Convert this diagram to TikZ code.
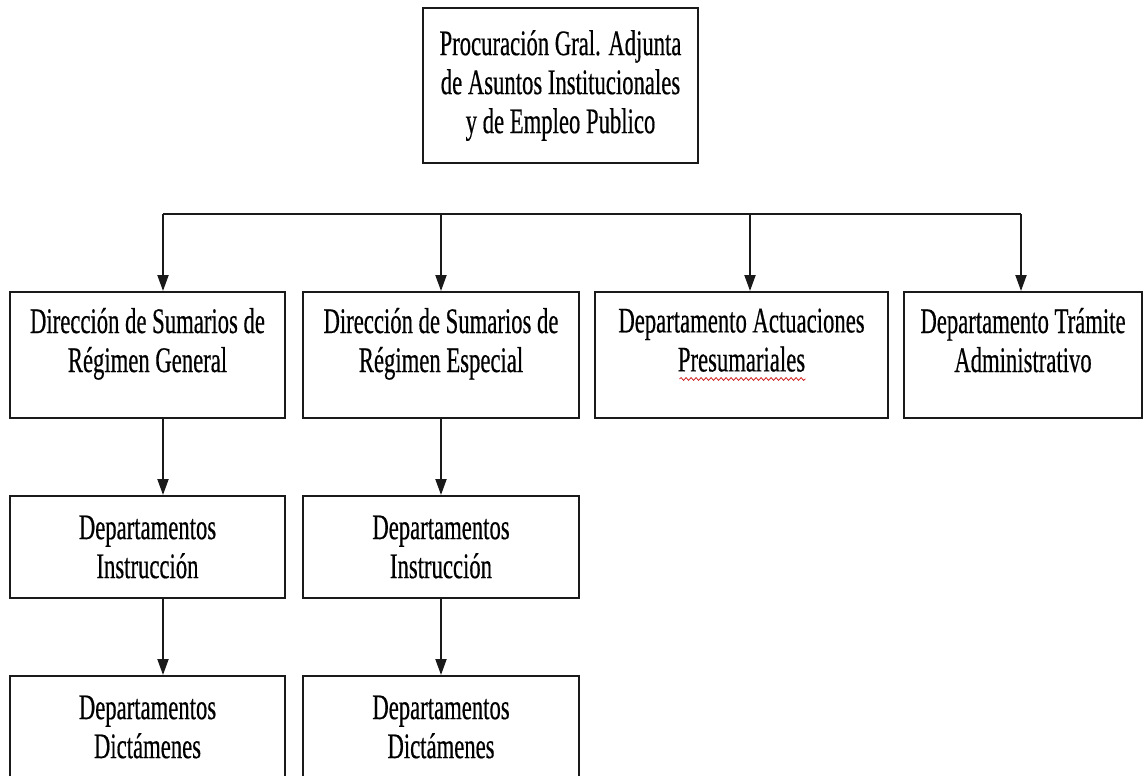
\documentclass[tikz,border=0pt]{standalone}
\usepackage{fontspec}
\setmainfont{Liberation Serif}[FakeStretch=0.63,FakeBold=0.4]
\usetikzlibrary{arrows.meta,calc,decorations.pathmorphing}
\definecolor{OrgLine}{HTML}{1A1A1A}
\definecolor{SpellRed}{HTML}{D02020}

\begin{document}
\begin{tikzpicture}[
    x=0.5pt, y=-0.5pt,
    box/.style={
      draw=OrgLine,
      line width=1pt,
      minimum width=#1,
      inner sep=0pt,
      font=\fontsize{18}{19.5}\selectfont,
      align=center
    },
    toprow/.style={minimum height=63pt, text depth=15pt},
    subrow/.style={minimum height=51pt},
    line/.style={
      line width=1pt,
      color=OrgLine
    },
    arrow/.style={
      line,
      -{Triangle[width=5.5pt,length=8pt]}
    },
    spell/.style={
      SpellRed,
      line width=0.4pt,
      decorate,
      decoration={snake,amplitude=0.7pt,segment length=2.5pt}
    }
  ]
  \useasboundingbox (0,0) rectangle (1146,776);
  \clip (0,0) rectangle (1146,776);

  % Procuracion
  \node[box=137.5pt,minimum height=77.5pt] (proc) at (560.5,85.5)
    {Procuración Gral. Adjunta\\de Asuntos Institucionales\\y de Empleo Publico};

  % Direcciones y departamentos
  \node[box=137.5pt,toprow] (sgen) at (147.5,355) {Dirección de Sumarios de\\Régimen General};
  \node[box=138pt,toprow]   (sesp) at (441,355)   {Dirección de Sumarios de\\Régimen Especial};
  \node[box=146.5pt,toprow] (pres) at (741.5,355) {Departamento Actuaciones\\Presumariales};
  \node[box=119pt,toprow]   (tram) at (1023,355)  {Departamento Trámite\\Administrativo};

  % Instruccion
  \node[box=137.5pt,subrow] (instg) at (147.5,547) {Departamentos\\Instrucción};
  \node[box=138pt,subrow]   (inste) at (441,547)   {Departamentos\\Instrucción};

  % Dictamenes
  \node[box=137.5pt,subrow] (dictg) at (147.5,727) {Departamentos\\Dictámenes};
  \node[box=138pt,subrow]   (dicte) at (441,727)   {Departamentos\\Dictámenes};

  % Bus
  \coordinate (b1) at (163,214);
  \coordinate (b2) at (441,214);
  \coordinate (b3) at (750,214);
  \coordinate (b4) at (1021,214);
  \draw[line] (b1) -- (b4);

  % Arrows
  \draw[arrow] (b1) -- (b1 |- sgen.north);
  \draw[arrow] (b2) -- (b2 |- sesp.north);
  \draw[arrow] (b3) -- (b3 |- pres.north);
  \draw[arrow] (b4) -- (b4 |- tram.north);
  \draw[arrow] (b1 |- sgen.south)  -- (b1 |- instg.north);
  \draw[arrow] (b2 |- sesp.south)  -- (b2 |- inste.north);
  \draw[arrow] (b1 |- instg.south) -- (b1 |- dictg.north);
  \draw[arrow] (b2 |- inste.south) -- (b2 |- dicte.north);

  % spelling mark
  \draw[spell] ($(pres.center)+(-62,24)$) -- ($(pres.center)+(64,24)$);

\end{tikzpicture}
\end{document}
